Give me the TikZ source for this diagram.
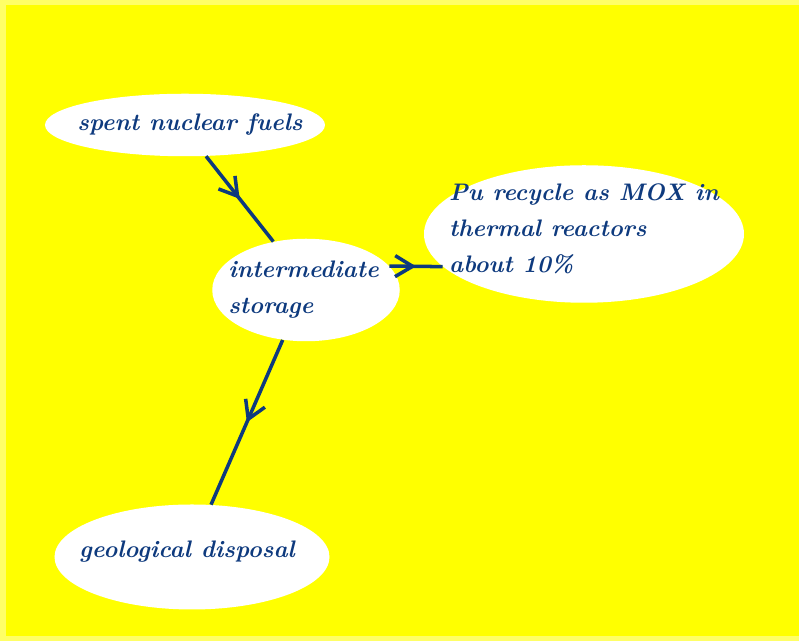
\documentclass[tikz,border=0pt]{standalone}
\usepackage{tikz}
\usetikzlibrary{arrows.meta}
\usetikzlibrary{shapes.geometric}
\usetikzlibrary{decorations.markings}

\definecolor{inkBlue}{HTML}{0E3A7E}
\definecolor{paleYellow}{HTML}{FFFF66}
\definecolor{fullYellow}{HTML}{FFFF00}

\tikzset{
	blob/.style={ellipse, fill=white, inner sep=0pt},
	txt/.style={text=inkBlue, font=\fontsize{13.6}{20.5}\selectfont\bfseries\itshape, align=left},
	flow/.style={inkBlue, line width=2pt,
		postaction={decorate},
		decoration={markings, mark=at position 0.5 with {\arrow[line width=2pt]{Straight Barb[length=3.5mm, width=4.2mm]}}}}
}

\newcommand{\drawFlowArrow}[2]{
	\draw[flow] (#1) -- (#2);
}

\begin{document}
\begin{tikzpicture}
		% frame
		\fill[paleYellow] (0,0) rectangle (15.98,12.82);
		\fill[fullYellow] (0.12,0.1) rectangle (15.98,12.72);
		\useasboundingbox (0,0) rectangle (15.98,12.82);

		\node[blob, minimum width=5.6cm, minimum height=1.25cm,
			label={[txt, xshift=1mm]center:spent nuclear fuels}] (Fuel) at (3.70,10.32) {};
		\node[blob, minimum width=3.75cm, minimum height=2.05cm,
			label={[txt, xshift=-0.5mm]center:{intermediate\\storage}}] (Store) at (6.12,7.02) {};
		\node[blob, minimum width=6.4cm, minimum height=2.75cm,
			label={[txt, yshift=1mm]center:{Pu recycle as MOX in\\thermal reactors\\about 10\%}}] (MOX) at (11.68,8.14) {};
		\node[blob, minimum width=5.5cm, minimum height=2.1cm,
			label={[txt, yshift=1mm, xshift=-1mm]center:geological disposal}] (Geo) at (3.84,1.68) {};

		\drawFlowArrow{Fuel.-56}{Store.124}
		\drawFlowArrow{Store.16}{MOX.193}
		\drawFlowArrow{Store.245}{Geo.70}
	\end{tikzpicture}
\end{document}
